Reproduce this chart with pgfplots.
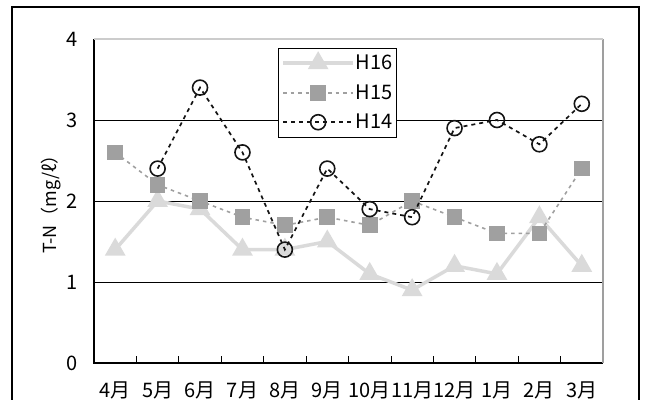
\documentclass[border=0pt]{standalone}
\usepackage{pgfplots}
\pgfplotsset{compat=1.18}
\usepackage{fontspec}
\setmainfont{Noto Sans CJK JP}

\definecolor{hsixteen}{RGB}{218,218,218}
\definecolor{hfifteen}{RGB}{160,160,160}
\definecolor{hfourteen}{RGB}{20,20,20}

% monthly T-N values (mg/l), April to March
\pgfplotstableread{
x h16 h15 h14
0  1.4 2.6 nan
1  2.0 2.2 2.4
2  1.9 2.0 3.4
3  1.4 1.8 2.6
4  1.4 1.7 1.4
5  1.5 1.8 2.4
6  1.1 1.7 1.9
7  0.9 2.0 1.8
8  1.2 1.8 2.9
9  1.1 1.6 3.0
10 1.8 1.6 2.7
11 1.2 2.4 3.2
}\tndata

\begin{document}
\begin{tikzpicture}
\useasboundingbox (0,0) rectangle (647bp,400bp);
% outer frame
\draw[line width=1.2bp] (12bp,-5bp) -- (12bp,393bp) -- (639bp,393bp) -- (639bp,-5bp);
\begin{axis}[
  at={(94bp,37bp)}, anchor=south west,
  scale only axis, width=509bp, height=324bp,
  xmin=-0.5, xmax=11.5, ymin=0, ymax=4,
  clip mode=individual,
  axis line style={draw=none},
  tick align=inside,
  xtick={0,...,11},
  xticklabels={4月,5月,6月,7月,8月,9月,10月,11月,12月,1月,2月,3月},
  xtick pos=bottom, ytick pos=left,
  major tick length=0pt,
  minor xtick={0.5,1.5,...,10.5},
  minor tick length=7bp,
  minor tick style={black, line width=0.8bp},
  ytick={0,4},
  extra y ticks={1,2,3},
  extra y tick style={grid=major},
  major grid style={black, line width=0.8bp},
  /pgf/number format/assume math mode=true,
  tick label style={font=\fontsize{20bp}{22bp}\selectfont},
  xticklabel style={anchor=north, inner sep=0pt, yshift=-19bp},
  yticklabel style={anchor=east, inner sep=0pt, xshift=-16bp},
  legend style={at={(rel axis cs:0.3615,0.972)}, anchor=north west,
    draw=black, line width=0.8bp, fill=white,
    font=\fontsize{20bp}{22bp}\selectfont,
    inner xsep=3bp, inner ysep=0bp,
    nodes={inner xsep=1bp, inner ysep=0bp, minimum height=29.5bp}},
  legend cell align=left,
  legend image code/.code={%
    \draw[mark repeat=2,mark phase=2,#1] plot coordinates {(0bp,0bp) (35bp,0bp) (70bp,0bp)};},
]
\addplot[hsixteen, line width=3.5bp, mark=triangle*, mark size=8.5bp,
  mark options={solid, hsixteen}] table[x=x, y=h16] {\tndata};
\addlegendentry{H16}
\addplot[hfifteen, line width=1.6bp, dash pattern=on 3.5bp off 4bp, mark=square*, mark size=7bp,
  mark options={solid, hfifteen}] table[x=x, y=h15] {\tndata};
\addlegendentry{H15}
\addplot[hfourteen, line width=1.7bp, dash pattern=on 4bp off 4bp, mark=o, mark size=7.5bp,
  mark options={solid, line width=1.6bp}, unbounded coords=jump] table[x=x, y=h14] {\tndata};
\addlegendentry{H14}
% plot frame: black left and bottom, gray right, light gray top
\draw[black, line width=1.2bp] (rel axis cs:0,1) -- (rel axis cs:0,0) -- (rel axis cs:1,0);
\draw[gray!75, line width=1.2bp] (rel axis cs:1,0) -- (rel axis cs:1,1);
\draw[gray!40, line width=1.2bp] (rel axis cs:0,1) -- (rel axis cs:1,1);
\end{axis}
% y axis title
\node[rotate=90, anchor=center, font=\fontsize{18bp}{20bp}\selectfont]
  at (51bp,200bp) {T-N（mg/ℓ）};
\end{tikzpicture}
\end{document}
